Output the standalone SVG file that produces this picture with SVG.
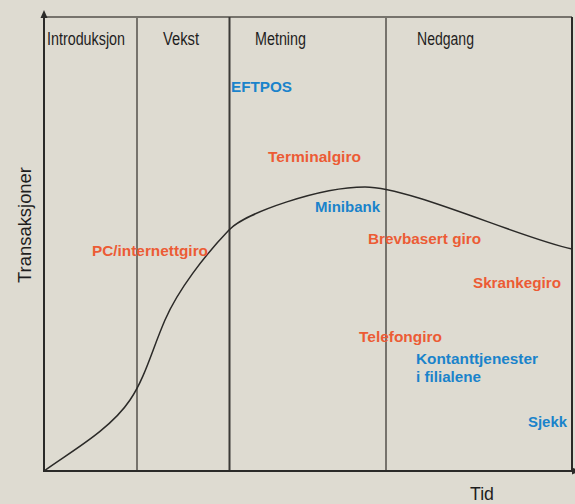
<svg xmlns="http://www.w3.org/2000/svg" width="575" height="504" viewBox="0 0 575 504">
<style>
.hd{font-family:"Liberation Sans",Arial,sans-serif;font-size:17.5px;fill:#1e1e1e}
.lb{font-family:"Liberation Sans",Arial,sans-serif;font-size:15px;font-weight:bold}
.o{fill:#ec5b35}
.b{fill:#1a83cb}
.ax{stroke:#2b2a28;stroke-width:2;fill:none}
.dv{stroke:#76736c;stroke-width:2;fill:none}
</style>
<rect width="575" height="504" fill="#dedbd1"/>
<g id="frame">
<line class="dv" x1="44" y1="17" x2="572" y2="17"/>
<line class="ax" x1="572" y1="17" x2="572" y2="471"/>
<line class="dv" x1="137" y1="17" x2="137" y2="471"/>
<line class="ax" x1="229.5" y1="17" x2="229.5" y2="471" style="stroke:#3a3936"/>
<line class="dv" x1="386" y1="17" x2="386" y2="471"/>
<line class="ax" x1="44" y1="16" x2="44" y2="472"/>
<polygon points="44,10 40.5,18 47.5,18" fill="#2b2a28"/>
<line class="ax" x1="43" y1="471" x2="575" y2="471"/>
<polygon points="580,471 572,467.5 572,474.5" fill="#2b2a28"/>
</g>
<g id="connectors">
<path d="M44,471 C70,452 110,430 130,400 C145,378 152,350 165,320 C178,290 205,255 229,230 C245,213 320,187 365,187 C410,187 520,238 572,249" fill="none" stroke="#2b2a28" stroke-width="1.5"/>
</g>
<g id="phases">
<text class="hd" x="47" y="45" textLength="78" lengthAdjust="spacingAndGlyphs">Introduksjon</text>
<text class="hd" x="163" y="45" textLength="36" lengthAdjust="spacingAndGlyphs">Vekst</text>
<text class="hd" x="255" y="45" textLength="51" lengthAdjust="spacingAndGlyphs">Metning</text>
<text class="hd" x="417" y="45" textLength="57" lengthAdjust="spacingAndGlyphs">Nedgang</text>
</g>
<g id="axis-labels">
<text class="hd" style="font-size:18px" transform="translate(31,283) rotate(-90)" textLength="116" lengthAdjust="spacingAndGlyphs">Transaksjoner</text>
<text class="hd" style="font-size:19px" x="470" y="500" textLength="24" lengthAdjust="spacingAndGlyphs">Tid</text>
</g>
<g id="eftpos"><text class="lb b" x="231" y="92" textLength="61" lengthAdjust="spacingAndGlyphs">EFTPOS</text></g>
<g id="terminalgiro"><text class="lb o" x="268" y="162" textLength="93" lengthAdjust="spacingAndGlyphs">Terminalgiro</text></g>
<g id="minibank"><text class="lb b" x="315" y="212" textLength="65" lengthAdjust="spacingAndGlyphs">Minibank</text></g>
<g id="brevbasert-giro"><text class="lb o" x="368" y="244" textLength="113" lengthAdjust="spacingAndGlyphs">Brevbasert giro</text></g>
<g id="pc-internettgiro"><text class="lb o" x="92" y="256" textLength="116" lengthAdjust="spacingAndGlyphs">PC/internettgiro</text></g>
<g id="skrankegiro"><text class="lb o" x="473" y="288" textLength="88" lengthAdjust="spacingAndGlyphs">Skrankegiro</text></g>
<g id="telefongiro"><text class="lb o" x="359" y="342" textLength="83" lengthAdjust="spacingAndGlyphs">Telefongiro</text></g>
<g id="kontanttjenester"><text class="lb b" x="416" y="364" textLength="122" lengthAdjust="spacingAndGlyphs">Kontanttjenester</text><text class="lb b" x="416" y="382" textLength="65" lengthAdjust="spacingAndGlyphs">i filialene</text></g>
<g id="sjekk"><text class="lb b" x="528" y="427" textLength="39" lengthAdjust="spacingAndGlyphs">Sjekk</text></g>
</svg>
